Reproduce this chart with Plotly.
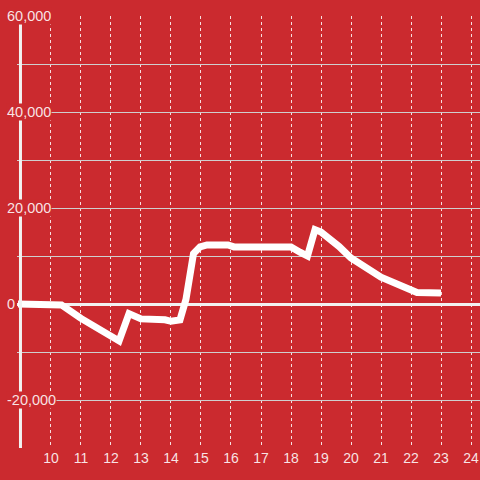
import plotly.graph_objects as go

# Series
hours = [8.9, 10.0, 10.35, 11.0, 11.5, 12.0, 12.27, 12.6, 13.0, 13.8, 14.0, 14.3,
         14.5, 14.75, 14.97, 15.2, 15.9, 16.1, 18.0, 18.3, 18.55, 18.8, 19.0,
         19.6, 20.0, 21.0, 21.5, 22.0, 22.2, 23.0]
values = [0, 0, -200, -3000, -5000, -6600, -7700, -2000, -3100, -3300, -3600, -3300,
          1000, 10500, 11900, 12300, 12300, 11900, 11900, 10800, 10000, 15500, 15000,
          12000, 9600, 5600, 4200, 2900, 2400, 2300]

x_ticks = list(range(10, 25))
y_label_vals = [60000, 40000, 20000, 0, -20000]
y_label_text = ["60,000", "40,000", "20,000", "0", "-20,000"]

bg = "#cb2a2f"
label_col = "rgba(255,255,255,0.88)"

fig = go.Figure()

# Main line
fig.add_trace(go.Scatter(
    x=hours,
    y=values,
    mode="lines",
    line=dict(color="white", width=7),
    hoverinfo="skip",
    showlegend=False,
))

# Styling axes and background
fig.update_layout(
    width=480, height=480,
    margin=dict(l=17, r=0, t=16, b=32, autoexpand=False),
    paper_bgcolor=bg,
    plot_bgcolor=bg,
    font=dict(family="Liberation Sans, Arial, sans-serif", size=14, color=label_col),
    xaxis=dict(
        range=[8.867, 24.3],
        tickvals=x_ticks,
        ticktext=[str(t) for t in x_ticks],
        showgrid=True,
        gridcolor="rgba(255,255,255,0.85)",
        griddash="dot",
        gridwidth=1,
        zeroline=False,
        showline=False,
        ticks="",
        automargin=False,
        tickfont=dict(size=14, color=label_col),
    ),
    yaxis=dict(
        range=[-30000, 60000],
        dtick=10000,
        tick0=0,
        showgrid=True,
        gridcolor="#cfcfcf",
        gridwidth=1,
        zeroline=True,
        zerolinecolor="#f2f2f2",
        zerolinewidth=3,
        showticklabels=False,
        showline=False,
        ticks="",
        automargin=False,
    ),
)

# Left axis line
fig.add_shape(type="line", xref="x", yref="paper",
              x0=8.983, x1=8.983, y0=0, y1=1,
              line=dict(color="#f2f2f2", width=3))

# Y labels sit over the plot with a red box behind them
for v, t in zip(y_label_vals, y_label_text):
    fig.add_annotation(
        x=-0.024, xref="paper", xanchor="left",
        y=v, yref="y", yanchor="middle",
        text=t, showarrow=False,
        bgcolor=bg, borderpad=0,
        font=dict(size=14.5, color=label_col),
    )

# page has a default 8px body margin, drop it so the chart fills the window
fig.write_html("out.html",
               config={"displayModeBar": False},
               post_script="document.body.style.margin='0';document.body.style.background='%s';" % bg)
